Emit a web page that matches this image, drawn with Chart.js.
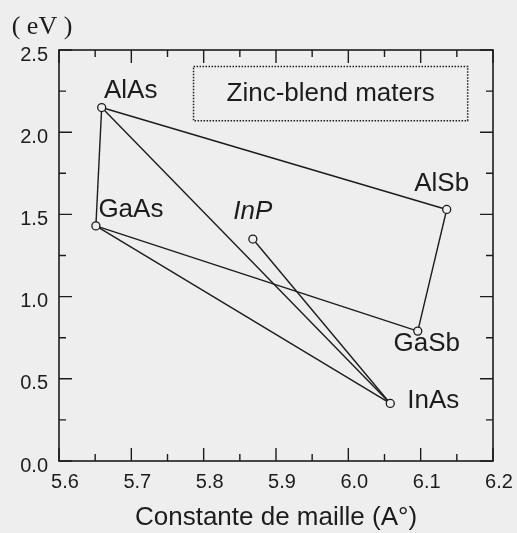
<!DOCTYPE html>
<html>
<head>
<meta charset="utf-8">
<script src="https://cdn.jsdelivr.net/npm/chart.js@4.4.0/dist/chart.umd.min.js"></script>
<style>
  html, body { margin: 0; padding: 0; background: #eeeeee; }
  #wrap { width: 517px; height: 533px; position: relative; }
</style>
</head>
<body>
<div id="wrap"><canvas id="gap" width="517" height="533"></canvas></div>
<script>
// Zinc-blende III-V compounds: lattice constant (Å) and band gap (eV)
const materials      = ['AlAs', 'GaAs', 'InP', 'AlSb', 'GaSb', 'InAs'];
const latticeConstant = [5.659, 5.651, 5.868, 6.136, 6.096, 6.058];
const bandGap         = [2.15, 1.43, 1.35, 1.53, 0.79, 0.35];

// Ternary alloy lines joining two binaries
const links = [
  ['AlAs', 'GaAs'],
  ['AlAs', 'AlSb'],
  ['AlAs', 'InAs'],
  ['GaAs', 'GaSb'],
  ['GaAs', 'InAs'],
  ['AlSb', 'GaSb'],
  ['InP',  'InAs']
];

const xTickValues = [5.6, 5.7, 5.8, 5.9, 6.0, 6.1, 6.2];
const yTickValues = [0.0, 0.5, 1.0, 1.5, 2.0, 2.5];

const boxText = 'Zinc-blend maters';
const xTitle = 'Constante de maille (A°)';
const yUnit = '( eV )';

// ---- styling ----
const INK = '#1c1c1c';
const SANS = '"Liberation Sans", Arial, Helvetica, sans-serif';
const SERIF = '"Liberation Serif", "Times New Roman", serif';

// label placement relative to each point, in pixels
const labelStyle = {
  AlAs: { dx: 29, dy: -17 },
  GaAs: { dx: 35, dy: -16 },
  InP:  { dx: 0,  dy: -27, italic: true },
  AlSb: { dx: -5, dy: -26 },
  GaSb: { dx: 9,  dy: 13 },
  InAs: { dx: 43, dy: -3 }
};
// dotted legend box, in data units
const boxArea = { x0: 5.786, x1: 6.165, y0: 2.07, y1: 2.40 };

const pointOf = name => {
  const i = materials.indexOf(name);
  return { x: latticeConstant[i], y: bandGap[i] };
};

const segmentSets = links.map(([a, b]) => ({
  data: [pointOf(a), pointOf(b)],
  showLine: true,
  borderColor: INK,
  borderWidth: 1.4,
  pointRadius: 0,
  order: 1
}));

const pointSet = {
  data: materials.map((m, i) => ({ x: latticeConstant[i], y: bandGap[i] })),
  showLine: false,
  pointRadius: 4,
  pointBorderWidth: 1.3,
  pointBorderColor: INK,
  pointBackgroundColor: '#eeeeee',
  order: 0
};

// frame with inward major / minor ticks on all four sides, plus text annotations
const framePlugin = {
  id: 'frame',
  afterDatasetsDraw(chart) {
    const { ctx, chartArea: a, scales: { x, y } } = chart;
    ctx.save();
    ctx.strokeStyle = INK;
    ctx.lineWidth = 1.6;
    ctx.strokeRect(a.left, a.top, a.right - a.left, a.bottom - a.top);

    const MAJ = 13, MIN = 7;
    ctx.lineWidth = 1.4;
    ctx.beginPath();
    const xt = x.ticks.map(t => t.value);
    xt.forEach((v, i) => {
      const px = x.getPixelForValue(v);
      ctx.moveTo(px, a.bottom); ctx.lineTo(px, a.bottom - MAJ);
      ctx.moveTo(px, a.top);    ctx.lineTo(px, a.top + MAJ);
      if (i < xt.length - 1) {
        const pm = x.getPixelForValue((v + xt[i + 1]) / 2);
        ctx.moveTo(pm, a.bottom); ctx.lineTo(pm, a.bottom - MIN);
        ctx.moveTo(pm, a.top);    ctx.lineTo(pm, a.top + MIN);
      }
    });
    const yt = y.ticks.map(t => t.value);
    yt.forEach((v, i) => {
      const py = y.getPixelForValue(v);
      ctx.moveTo(a.left, py);  ctx.lineTo(a.left + MAJ, py);
      ctx.moveTo(a.right, py); ctx.lineTo(a.right - MAJ, py);
      if (i < yt.length - 1) {
        const pm = y.getPixelForValue((v + yt[i + 1]) / 2);
        ctx.moveTo(a.left, pm);  ctx.lineTo(a.left + MIN, pm);
        ctx.moveTo(a.right, pm); ctx.lineTo(a.right - MIN, pm);
      }
    });
    ctx.stroke();

    // dotted box with its caption
    const bx0 = x.getPixelForValue(boxArea.x0), bx1 = x.getPixelForValue(boxArea.x1);
    const by0 = y.getPixelForValue(boxArea.y1), by1 = y.getPixelForValue(boxArea.y0);
    ctx.setLineDash([1.5, 1.5]);
    ctx.lineWidth = 1.5;
    ctx.strokeRect(bx0, by0, bx1 - bx0, by1 - by0);
    ctx.setLineDash([]);

    ctx.fillStyle = INK;
    ctx.textAlign = 'center';
    ctx.textBaseline = 'middle';
    ctx.font = '26px ' + SANS;
    ctx.fillText(boxText, (bx0 + bx1) / 2, (by0 + by1) / 2);

    // compound names
    materials.forEach((m, i) => {
      const s = labelStyle[m];
      ctx.font = (s.italic ? 'italic ' : '') + '26px ' + SANS;
      const px = x.getPixelForValue(latticeConstant[i]);
      const py = y.getPixelForValue(bandGap[i]);
      ctx.fillText(m, px + s.dx, py + s.dy);
    });

    // unit of the vertical axis
    ctx.font = '26px ' + SERIF;
    ctx.fillText(yUnit, a.left - 17, a.top - 23);
    ctx.restore();
  }
};

new Chart(document.getElementById('gap'), {
  type: 'scatter',
  data: { datasets: [pointSet, ...segmentSets] },
  options: {
    responsive: false,
    animation: false,
    devicePixelRatio: 1,
    layout: { padding: { top: 50, right: 24, left: 0, bottom: 0 } },
    plugins: { legend: { display: false }, tooltip: { enabled: false } },
    scales: {
      x: {
        type: 'linear',
        min: xTickValues[0],
        max: xTickValues[xTickValues.length - 1],
        afterBuildTicks: s => { s.ticks = xTickValues.map(v => ({ value: v })); },
        afterFit: s => { s.height = 72; },
        grid: { display: false, drawTicks: false },
        border: { display: false },
        ticks: {
          color: INK,
          font: { family: SANS, size: 20 },
          padding: 9,
          labelOffset: 6,
          maxRotation: 0,
          autoSkip: false,
          callback: v => Number(v).toFixed(1)
        },
        title: {
          display: true,
          text: xTitle,
          color: INK,
          font: { family: SANS, size: 26 },
          padding: { top: 0, bottom: 0 }
        }
      },
      y: {
        type: 'linear',
        min: yTickValues[0],
        max: yTickValues[yTickValues.length - 1],
        afterBuildTicks: s => { s.ticks = yTickValues.map(v => ({ value: v })); },
        afterFit: s => { s.width = 59; },
        grid: { display: false, drawTicks: false },
        border: { display: false },
        ticks: {
          color: INK,
          font: { family: SANS, size: 20 },
          padding: 11,
          labelOffset: 5,
          autoSkip: false,
          callback: v => Number(v).toFixed(1)
        }
      }
    }
  },
  plugins: [framePlugin]
});
</script>
</body>
</html>
